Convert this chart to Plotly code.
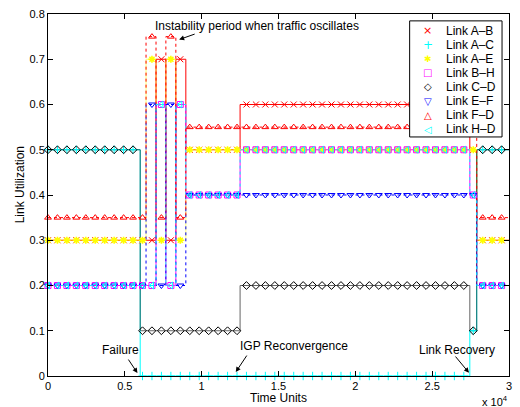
import numpy as np
import plotly.graph_objects as go

# segment boundaries (time units)
seg_times = [0, 6000, 6380, 7030, 7670, 8320, 8970, 12500, 27450, 27900, 30000]

# utilisation level in each segment
link_ab = [0.3, 0.3, 0.3, 0.7, 0.3, 0.7, 0.5, 0.6, 0.5, 0.3]
link_ac = [0.5, 0.0, 0.0, 0.0, 0.0, 0.0, 0.0, 0.0, 0.1, 0.5]
link_ae = [0.3, 0.3, 0.7, 0.3, 0.7, 0.3, 0.5, 0.5, 0.5, 0.3]
link_bh = [0.2, 0.2, 0.2, 0.6, 0.2, 0.6, 0.4, 0.5, 0.4, 0.2]
link_cd = [0.5, 0.1, 0.1, 0.1, 0.1, 0.1, 0.1, 0.2, 0.1, 0.5]
link_ef = [0.2, 0.2, 0.6, 0.2, 0.6, 0.2, 0.4, 0.4, 0.4, 0.2]
link_fd = [0.35, 0.35, 0.75, 0.35, 0.75, 0.35, 0.55, 0.55, 0.55, 0.35]
link_hd = [0.2, 0.2, 0.2, 0.6, 0.2, 0.6, 0.4, 0.5, 0.4, 0.2]

names = ["Link A–B", "Link A–C", "Link A–E", "Link B–H",
         "Link C–D", "Link E–F", "Link F–D", "Link H–D"]
series = [link_ab, link_ac, link_ae, link_bh, link_cd, link_ef, link_fd, link_hd]
colors = ["#FF0000", "#00FFFF", "#FFFF00", "#FF00FF",
          "#000000", "#0000FF", "#FF0000", "#00FFFF"]
line_opacity = [1, 1, 0.55, 1, 0.6, 1, 1, 1]
symbols = ["x-thin-open", "cross-thin-open", "asterisk-open", "square-open",
           "diamond-open", "triangle-down-open", "triangle-up-open", "triangle-left-open"]
marker_lw = [1, 1, 1.6, 1, 1, 1, 1, 1]
legend_glyphs = ["×", "+", "✱", "□", "◇", "▽", "△", "◁"]
legend_glyph_sizes = [11, 12, 9, 10, 10, 10, 10, 10]
dashes = ["solid", "solid", "solid", "solid", "solid", "dot", "dot", "dot"]

marker_spacing = 615
marker_times = np.arange(0, 30000, marker_spacing)

x_tick_vals = [0, 5000, 10000, 15000, 20000, 25000, 30000]
x_tick_text = ["0", "0.5", "1", "1.5", "2", "2.5", "3"]
y_tick_vals = [0, 0.1, 0.2, 0.3, 0.4, 0.5, 0.6, 0.7, 0.8]
y_tick_text = ["0", "0.1", "0.2", "0.3", "0.4", "0.5", "0.6", "0.7", "0.8"]

FONT = "Liberation Sans, Arial, Helvetica, sans-serif"

fig = go.Figure()
t_arr = np.array(seg_times)
for vals, col, dash, op in zip(series, colors, dashes, line_opacity):
    fig.add_trace(go.Scatter(
        x=seg_times, y=list(vals) + [vals[-1]], mode="lines", line_shape="hv",
        line=dict(color=col, width=1, dash=dash), opacity=op,
        showlegend=False, hoverinfo="skip"))

for name, vals, col, sym, lw in zip(names, series, colors, symbols, marker_lw):
    idx = np.searchsorted(t_arr, marker_times, side="right") - 1
    yv = np.array(vals)[idx]
    fig.add_trace(go.Scatter(
        x=marker_times, y=yv, mode="markers", name=name, showlegend=False,
        cliponaxis=False,
        marker=dict(symbol=sym, size=6, color=col, line=dict(color=col, width=lw))))

W, H = 520, 407
L, R, T, B = 48, 8, 8, 31
pw, ph = W - L - R, H - T - B


def px(xp):
    return (xp - L) / pw


def py(yp):
    return (H - B - yp) / ph


def label(text, x, y, size=12, **kw):
    d = dict(text=text, x=px(x), y=py(y), xref="paper", yref="paper", showarrow=False,
             xanchor="center", yanchor="middle", font=dict(size=size))
    d.update(kw)
    return d


ann = []
ann.append(label("Instability period when traffic oscillates", 258, 20))
ann.append(label("Failure", 121, 350))
ann.append(label("IGP Reconvergence", 296, 346))
ann.append(label("Link Recovery", 460, 350))
arrows = [((180, 34), (197, 28)), ((138, 373), (128, 358)),
          ((237, 372), (249, 354)), ((471.7, 372.7), (457, 355))]
for (hx, hy), (tx, ty) in arrows:
    ann.append(dict(text="", x=px(hx), y=py(hy), xref="paper", yref="paper",
                    ax=tx - hx, ay=ty - hy, axref="pixel", ayref="pixel",
                    showarrow=True, arrowhead=2, arrowsize=1, arrowwidth=1,
                    arrowcolor="black"))
ann.append(label("Time Units", 280, 398))
ann.append(label("Link Utilization", 20, 182, textangle=-90))
ann.append(label("x 10<sup>4</sup>", 498, 401, size=11))

# manual legend (compact rows like the original)
leg_left, leg_right, leg_top, leg_bottom = 412, 505, 15, 133
row0, row_step = 25, 14.3
shapes = [dict(type="rect", xref="paper", yref="paper", x0=px(leg_left), x1=px(leg_right),
               y0=py(leg_bottom), y1=py(leg_top), fillcolor="white",
               line=dict(color="black", width=1), layer="above")]
for i, (name, col, g, gs) in enumerate(zip(names, colors, legend_glyphs, legend_glyph_sizes)):
    yy = row0 + i * row_step
    ann.append(dict(text=g, x=px(430), y=py(yy), xref="paper", yref="paper", showarrow=False,
                    xanchor="center", yanchor="middle",
                    font=dict(size=gs, color=col, family="DejaVu Sans")))
    ann.append(dict(text=name, x=px(447), y=py(yy), xref="paper", yref="paper",
                    showarrow=False, xanchor="left", yanchor="middle", font=dict(size=12)))

axis_common = dict(showgrid=False, zeroline=False, showline=True, linecolor="black",
                   linewidth=1, mirror="ticks", ticks="inside", ticklen=5,
                   tickcolor="black", tickfont=dict(size=11, color="black"))

fig.update_layout(
    width=W, height=H, margin=dict(l=L, r=R, t=T, b=B),
    paper_bgcolor="white", plot_bgcolor="white",
    font=dict(family=FONT, color="black", size=12),
    xaxis=dict(range=[0, 30000], tickvals=x_tick_vals, ticktext=x_tick_text, **axis_common),
    yaxis=dict(range=[0, 0.8], tickvals=y_tick_vals, ticktext=y_tick_text, **axis_common),
    showlegend=False,
    annotations=ann,
    shapes=shapes,
)

fig.write_html("out.html", config={"displayModeBar": False},
               post_script="document.body.style.margin='0px';")
